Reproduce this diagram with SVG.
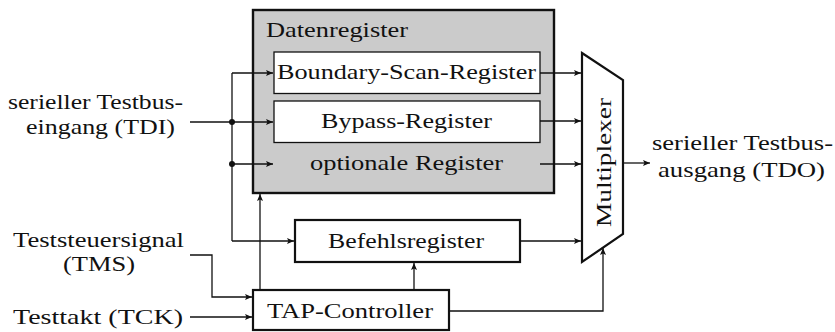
<svg xmlns="http://www.w3.org/2000/svg" width="835" height="332" viewBox="0 0 835 332">
<style>
.t{font-family:"Liberation Serif","Times New Roman",serif;font-size:21.5px;fill:#111}
.thick{fill:#fff;stroke:#111;stroke-width:2.2}
.thin{fill:#fff;stroke:#111;stroke-width:1.3}
.wire{fill:none;stroke:#111;stroke-width:1.3}
</style>
<defs>
<marker id="ah" markerWidth="8" markerHeight="6" refX="7" refY="3" orient="auto" markerUnits="userSpaceOnUse">
<path d="M0,0 L7,3 L0,6 L1.5,3 z" fill="#111"/>
</marker>
</defs>
<g id="datenregister">
<rect x="253" y="10" width="301" height="183" fill="#cbcbcb" stroke="#111" stroke-width="2.4"/>
<text class="t" x="266" y="36.5" textLength="142" lengthAdjust="spacingAndGlyphs">Datenregister</text>
</g>
<g id="boundary">
<rect class="thin" x="274" y="52" width="266" height="41.5"/>
<text class="t" x="277" y="79" textLength="259" lengthAdjust="spacingAndGlyphs">Boundary-Scan-Register</text>
</g>
<g id="bypass">
<rect class="thin" x="274" y="101" width="266" height="41.5"/>
<text class="t" x="321" y="128" textLength="171" lengthAdjust="spacingAndGlyphs">Bypass-Register</text>
</g>
<g id="optional">
<text class="t" x="310" y="170" textLength="193" lengthAdjust="spacingAndGlyphs">optionale Register</text>
</g>
<g id="befehlsregister">
<rect class="thick" x="295" y="220" width="225" height="42"/>
<text class="t" x="328" y="248" textLength="156" lengthAdjust="spacingAndGlyphs">Befehlsregister</text>
</g>
<g id="tap">
<rect class="thick" x="253" y="290" width="196" height="40"/>
<text class="t" x="267" y="318" textLength="166" lengthAdjust="spacingAndGlyphs">TAP-Controller</text>
</g>
<g id="mux">
<polygon class="thick" points="582,53 623,80 623,234 582,262"/>
<text class="t" transform="translate(611,162.5) rotate(-90)" x="0" y="0" text-anchor="middle" textLength="129" lengthAdjust="spacingAndGlyphs">Multiplexer</text>
</g>
<g id="tdi">
<text class="t" x="8" y="108.5" textLength="175" lengthAdjust="spacingAndGlyphs">serieller Testbus-</text>
<text class="t" x="26" y="133.5" textLength="149" lengthAdjust="spacingAndGlyphs">eingang (TDI)</text>
</g>
<g id="tms">
<text class="t" x="13" y="247" textLength="171" lengthAdjust="spacingAndGlyphs">Teststeuersignal</text>
<text class="t" x="63" y="271" textLength="72" lengthAdjust="spacingAndGlyphs">(TMS)</text>
</g>
<g id="tck">
<text class="t" x="13" y="323.5" textLength="170" lengthAdjust="spacingAndGlyphs">Testtakt (TCK)</text>
</g>
<g id="tdo">
<text class="t" x="652" y="150" textLength="181" lengthAdjust="spacingAndGlyphs">serieller Testbus-</text>
<text class="t" x="658" y="177" textLength="167" lengthAdjust="spacingAndGlyphs">ausgang (TDO)</text>
</g>
<g id="connectors">
<path class="wire" d="M190,122 H273" marker-end="url(#ah)"/>
<path class="wire" d="M232,73 V241"/>
<path class="wire" d="M232,73 H273" marker-end="url(#ah)"/>
<path class="wire" d="M232,164 H273" marker-end="url(#ah)"/>
<path class="wire" d="M232,241 H294" marker-end="url(#ah)"/>
<circle cx="232" cy="122" r="3" fill="#111"/>
<circle cx="232" cy="164" r="3" fill="#111"/>
<path class="wire" d="M540,73 H581" marker-end="url(#ah)"/>
<path class="wire" d="M540,121 H581" marker-end="url(#ah)"/>
<path class="wire" d="M540,164 H581" marker-end="url(#ah)"/>
<path class="wire" d="M520,241 H581" marker-end="url(#ah)"/>
<path class="wire" d="M260,290 V194" marker-end="url(#ah)"/>
<path class="wire" d="M414,290 V263" marker-end="url(#ah)"/>
<path class="wire" d="M449,311 H603 V248" marker-end="url(#ah)"/>
<path class="wire" d="M623,163 H650" marker-end="url(#ah)"/>
<path class="wire" d="M190,255 H212 V297 H252" marker-end="url(#ah)"/>
<path class="wire" d="M190,317 H252" marker-end="url(#ah)"/>
</g>
</svg>
